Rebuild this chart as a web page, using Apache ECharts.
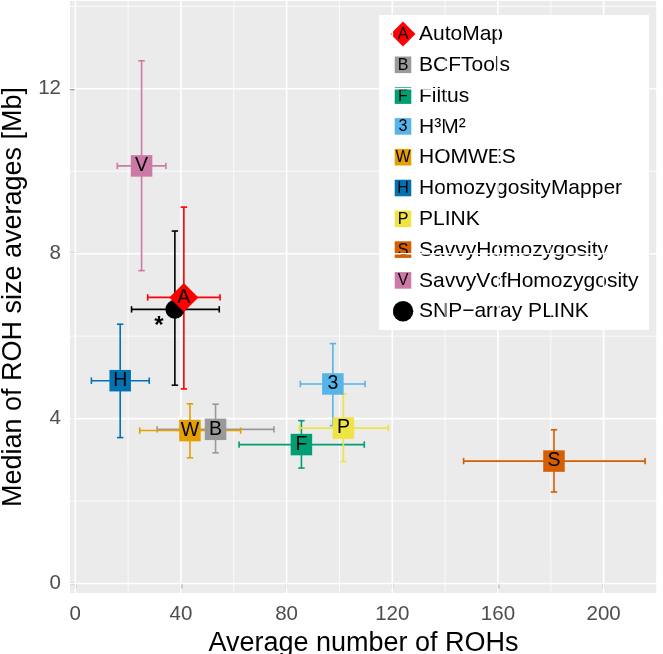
<!DOCTYPE html>
<html>
<head>
<meta charset="utf-8">
<script src="https://cdn.jsdelivr.net/npm/echarts@6/dist/echarts.min.js"></script>
<style>html,body{margin:0;padding:0;background:#fff}#c{width:663px;height:654px}</style>
</head>
<body>
<div id="c"></div>
<script>
const methods = ['AutoMap','BCFTools','Filtus','H\u00b3M\u00b2','HOMWES','HomozygosityMapper','PLINK','SavvyHomozygosity','SavvyVcfHomozygosity','SNP\u2212array PLINK'];
const letters = ['A','B','F','3','W','H','P','S','V',''];
const colors = ['#FF0000','#999999','#009E73','#56B4E9','#E69F00','#0072B2','#F0E442','#D55E00','#CC79A7','#000000'];
const shapes = ['diamond','rect','rect','rect','rect','rect','rect','rect','rect','circle'];
const xMean = [41.1, 53.1, 85.6, 97.5, 43.4, 17.0, 101.5, 181.2, 25.1, 37.7];
const xLow  = [27.4, 31.0, 62.0, 85.2, 24.4, 6.1, 84.8, 147.0, 15.9, 21.3];
const xHigh = [54.8, 75.2, 109.4, 109.7, 62.6, 28.0, 118.5, 215.7, 34.3, 54.5];
const yMed  = [6.94, 3.74, 3.37, 4.84, 3.71, 4.92, 3.77, 2.97, 10.13, 6.65];
const yLow  = [4.72, 3.17, 2.80, 3.83, 3.05, 3.54, 2.96, 2.22, 7.59, 4.81];
const yHigh = [9.13, 4.35, 3.95, 5.82, 4.36, 6.29, 4.60, 3.73, 12.68, 8.55];
const xTicks = [0, 40, 80, 120, 160, 200];
const xMinor = [20, 60, 100, 140, 180, 220];
const yTicks = [0, 4, 8, 12];
const yMinor = [2, 6, 10, 14];
const annotation = '*';

const FONT = '"Liberation Sans", Arial, Helvetica, sans-serif';
const chart = echarts.init(document.getElementById('c'), null, {renderer: 'canvas'});

const errData = methods.map((m, i) => [xMean[i], xLow[i], xHigh[i], yMed[i], yLow[i], yHigh[i], i]);

const series = [
  {
    // panel grid lines, placed through the axes' scales
    type: 'custom', z: 1, silent: true,
    data: [[0, 0]],
    renderItem: function (params, api) {
      const cs = params.coordSys;
      const top = cs.y, bot = cs.y + cs.height, left = cs.x, right = cs.x + cs.width;
      const kids = [];
      const vline = (v, w) => { const p = api.coord([v, 0]); kids.push({type: 'line', shape: {x1: p[0], y1: top, x2: p[0], y2: bot}, style: {stroke: '#FFFFFF', lineWidth: w}}); };
      const hline = (v, w) => { const p = api.coord([0, v]); kids.push({type: 'line', shape: {x1: left, y1: p[1], x2: right, y2: p[1]}, style: {stroke: '#FFFFFF', lineWidth: w}}); };
      xMinor.forEach(v => vline(v, 0.8));
      yMinor.forEach(v => hline(v, 0.8));
      xTicks.forEach(v => vline(v, 1.6));
      yTicks.forEach(v => hline(v, 1.6));
      return {type: 'group', children: kids};
    }
  },
  {
    type: 'custom', z: 2, silent: true,
    data: errData,
    encode: {x: [0, 1, 2], y: [3, 4, 5]},
    renderItem: function (params, api) {
      const x = api.value(0), xl = api.value(1), xh = api.value(2);
      const y = api.value(3), yl = api.value(4), yh = api.value(5);
      const col = colors[api.value(6)];
      const L = api.coord([xl, y]), R = api.coord([xh, y]);
      const T = api.coord([x, yh]), B = api.coord([x, yl]);
      const c = 3.2;
      const st = {stroke: col, lineWidth: 1.6};
      const ln = (x1, y1, x2, y2) => ({type: 'line', shape: {x1, y1, x2, y2}, style: st});
      return {type: 'group', children: [
        ln(L[0], L[1], R[0], R[1]),
        ln(L[0], L[1] - c, L[0], L[1] + c),
        ln(R[0], R[1] - c, R[0], R[1] + c),
        ln(T[0], T[1], B[0], B[1]),
        ln(T[0] - c, T[1], T[0] + c, T[1]),
        ln(B[0] - c, B[1], B[0] + c, B[1])
      ]};
    }
  }
];

// SNP-array drawn first so the AutoMap diamond lies over it
const order = [9, 0, 1, 2, 3, 4, 5, 6, 7, 8];
order.forEach(i => {
  const isSnp = i === 9;
  series.push({
    type: 'scatter', name: methods[i], z: 3 + (i === 0 ? 1 : 0), silent: true,
    symbol: shapes[i],
    symbolSize: shapes[i] === 'diamond' ? 29 : (shapes[i] === 'circle' ? 19 : 21.5),
    itemStyle: {color: colors[i], opacity: 1},
    label: isSnp ? {
      show: true, formatter: annotation, position: 'inside', offset: [-16, 17],
      color: '#000', fontSize: 24, fontWeight: 'bold', fontFamily: FONT
    } : {
      show: true, formatter: letters[i], position: 'inside',
      color: '#000', fontSize: 19.5, fontFamily: FONT
    },
    data: [[xMean[i], yMed[i]]]
  });
});

// legend drawn as graphic elements built from the method arrays
const lg = [];
lg.push({type: 'rect', shape: {x: 379, y: 15, width: 270, height: 315}, style: {fill: '#FFFFFF'}});
methods.forEach((m, i) => {
  const cy = 34 + i * 30.8;
  const cx = 403;
  if (shapes[i] === 'diamond') {
    lg.push({type: 'polygon', shape: {points: [[cx, cy - 12.5], [cx + 12.5, cy], [cx, cy + 12.5], [cx - 12.5, cy]]}, style: {fill: colors[i]}});
  } else if (shapes[i] === 'circle') {
    lg.push({type: 'circle', shape: {cx: cx, cy: cy, r: 10.3}, style: {fill: colors[i]}});
  } else {
    lg.push({type: 'rect', shape: {x: cx - 8.3, y: cy - 8.3, width: 16.6, height: 16.6}, style: {fill: colors[i]}});
  }
  if (letters[i]) {
    lg.push({type: 'text', x: cx, y: cy + 0.5, style: {text: letters[i], fill: '#000', font: '16px ' + FONT, textAlign: 'center', textVerticalAlign: 'middle'}});
  }
  lg.push({type: 'text', x: 419, y: cy + 0.5, style: {text: m, fill: '#000', font: '21px ' + FONT, textAlign: 'left', textVerticalAlign: 'middle'}});
});

const axisCommon = {
  type: 'value',
  axisLine: {show: false},
  splitLine: {show: false},
  axisTick: {show: true, length: 5, lineStyle: {color: '#333333', width: 1.3}},
  axisLabel: {color: '#4D4D4D', fontSize: 20.5, fontFamily: FONT},
  nameLocation: 'middle',
  nameTextStyle: {color: '#000', fontSize: 27, fontFamily: FONT}
};

chart.setOption({
  animation: false,
  backgroundColor: '#FFFFFF',
  textStyle: {fontFamily: FONT},
  grid: {left: 70, right: 6, top: 1, bottom: 61, show: true, backgroundColor: '#EBEBEB', borderWidth: 0,
         containLabel: false, outerBoundsMode: 'none'},
  xAxis: Object.assign({}, axisCommon, {
    min: -2, max: 220.2,
    name: 'Average number of ROHs', nameGap: 29,
    axisTick: Object.assign({}, axisCommon.axisTick, {customValues: xTicks}),
    axisLabel: Object.assign({}, axisCommon.axisLabel, {customValues: xTicks, margin: 11})
  }),
  yAxis: Object.assign({}, axisCommon, {
    min: -0.23, max: 14.13,
    name: 'Median of ROH size averages [Mb]', nameGap: 38,
    axisTick: Object.assign({}, axisCommon.axisTick, {customValues: yTicks}),
    axisLabel: Object.assign({}, axisCommon.axisLabel, {customValues: yTicks, margin: 9})
  }),
  graphic: [{type: 'group', zlevel: 1, z: 100, children: lg}],
  series: series
});
</script>
</body>
</html>
